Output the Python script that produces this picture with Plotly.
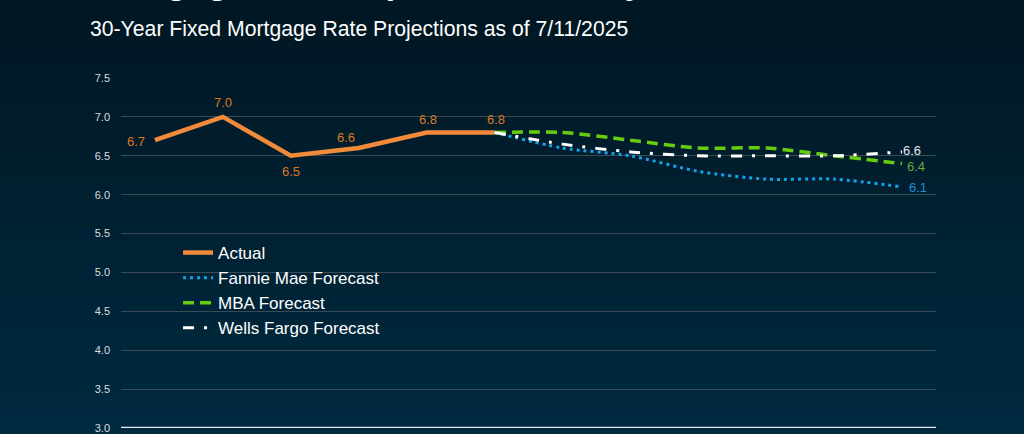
import plotly.graph_objects as go

quarters = ["Q1 2024", "Q2 2024", "Q3 2024", "Q4 2024", "Q1 2025", "Q2 2025",
            "Q3 2025", "Q4 2025", "Q1 2026", "Q2 2026", "Q3 2026", "Q4 2026"]
actual_q = quarters[:6]
actual = [6.7, 7.0, 6.5, 6.6, 6.8, 6.8]
forecast_q = quarters[5:]
fannie = [6.8, 6.6, 6.5, 6.3, 6.2, 6.2, 6.1]
mba = [6.8, 6.8, 6.7, 6.6, 6.6, 6.5, 6.4]
wells = [6.8, 6.65, 6.55, 6.5, 6.5, 6.5, 6.55]
wells_end_label = "6.6"
y_ticks = [3.0, 3.5, 4.0, 4.5, 5.0, 5.5, 6.0, 6.5, 7.0, 7.5]

W, H = 1024, 434
ML, MR, MT, MB = 121, 88, 78, 6
FONT = "Liberation Sans, Arial, sans-serif"
ph = H - MT - MB
pw = W - ML - MR

fig = go.Figure()

fig.add_trace(go.Scatter(
    x=actual_q, y=actual, name="Actual", mode="lines",
    line=dict(color="#f28a3c", width=4.5),
))
fig.add_trace(go.Scatter(
    x=forecast_q, y=fannie, name="Fannie Mae Forecast", mode="lines",
    line=dict(color="#12a4ec", width=3, dash="3px,4px", shape="spline", smoothing=0.8),
))
fig.add_trace(go.Scatter(
    x=forecast_q, y=mba, name="MBA Forecast", mode="lines",
    line=dict(color="#66cc10", width=3.5, dash="11px,6px", shape="spline", smoothing=0.8),
))
fig.add_trace(go.Scatter(
    x=forecast_q, y=wells, name="Wells Fargo Forecast", mode="lines",
    line=dict(color="#ffffff", width=3, dash="11px,10px,3px,10px", shape="spline", smoothing=0.8),
))

annotations = []
# data labels for actual series (offsets are styling only)
actual_offsets = [(-19, -1), (0, 14), (0, -16), (-13, 11), (1, 13), (1, 13)]
for q, v, (dx, dy) in zip(actual_q, actual, actual_offsets):
    annotations.append(dict(x=q, y=v, xref="x", yref="y", text=f"{v:.1f}", showarrow=False,
                            xshift=dx, yshift=dy, font=dict(size=13, color="#d9781f", family=FONT)))
# end labels for forecasts
ends = [
    (forecast_q[-1], fannie[-1], f"{fannie[-1]:.1f}", "#1b8fd2", 5, -1),
    (forecast_q[-1], mba[-1], f"{mba[-1]:.1f}", "#6aa83c", 3, -3),
    (forecast_q[-1], wells[-1], wells_end_label, "#e6e6e6", -1, 1),
]
for q, v, t, c, dx, dy in ends:
    annotations.append(dict(x=q, y=v, xref="x", yref="y", text=t, showarrow=False,
                            xanchor="left", xshift=dx, yshift=dy,
                            font=dict(size=13, color=c, family=FONT)))

annotations += [
    dict(text="30-Year Fixed Mortgage Rate Projections as of 7/11/2025",
         xref="paper", yref="paper", x=(88 - ML) / pw, y=1 + (MT - 29) / ph,
         xanchor="left", yanchor="middle", showarrow=False,
         font=dict(size=21.2, color="#ffffff", family=FONT)),
    dict(text="<b>Mortgage Rate Expectations Stay Elevated</b>",
         xref="paper", yref="paper", x=(88 - ML) / pw, y=1 + (MT - 3) / ph,
         xanchor="left", yanchor="bottom", showarrow=False,
         font=dict(size=35, color="#ffffff", family=FONT)),
]

# background vertical gradient
shapes = []
n = 40
top = (1, 23, 35)
bot = (0, 42, 64)
for i in range(n):
    f = i / (n - 1)
    c = tuple(round(top[k] + (bot[k] - top[k]) * f) for k in range(3))
    shapes.append(dict(type="rect", xref="paper", yref="paper",
                       x0=-ML / pw - 0.01, x1=1 + MR / pw + 0.01,
                       y0=(1 + MT / ph) - (i + 1) * ((H + 4) / ph) / n,
                       y1=(1 + MT / ph) - i * ((H + 4) / ph) / n + 0.003,
                       fillcolor=f"rgb{c}", line=dict(width=0), layer="below"))
# x-axis baseline at 3.0
shapes.append(dict(type="line", xref="paper", yref="y", x0=0, x1=1, y0=3.0, y1=3.0,
                   line=dict(color="#e8ecef", width=2.5)))

fig.update_layout(
    width=W, height=H,
    margin=dict(l=ML, r=MR, t=MT, b=MB, autoexpand=False),
    paper_bgcolor="rgb(1,32,50)",
    plot_bgcolor="rgba(0,0,0,0)",
    font=dict(family=FONT, color="#ffffff"),
    shapes=shapes,
    annotations=annotations,
    showlegend=True,
    legend=dict(x=0.07, y=(428 - 235) / ph, xanchor="left", yanchor="top",
                bgcolor="rgba(0,0,0,0)", font=dict(size=17, color="#ffffff", family=FONT),
                itemwidth=30, tracegroupgap=0),
    xaxis=dict(categoryorder="array", categoryarray=quarters, showticklabels=False,
               showgrid=False, zeroline=False, showline=False, ticks="", automargin=False,
               range=[-0.5, len(quarters) - 0.5]),
    yaxis=dict(range=[3.0, 7.5], tickvals=y_ticks, tickformat=".1f", automargin=False,
               showgrid=True, gridcolor="#3b4a56", gridwidth=1, zeroline=False,
               showline=False, ticks="", ticklabelstandoff=10, ticklabeloverflow="allow",
               tickfont=dict(size=11, color="#d8dce0", family=FONT)),
)

fig.write_html("out.html", config={"displayModeBar": False},
               post_script="document.body.style.margin='0';document.body.style.overflow='hidden';")
